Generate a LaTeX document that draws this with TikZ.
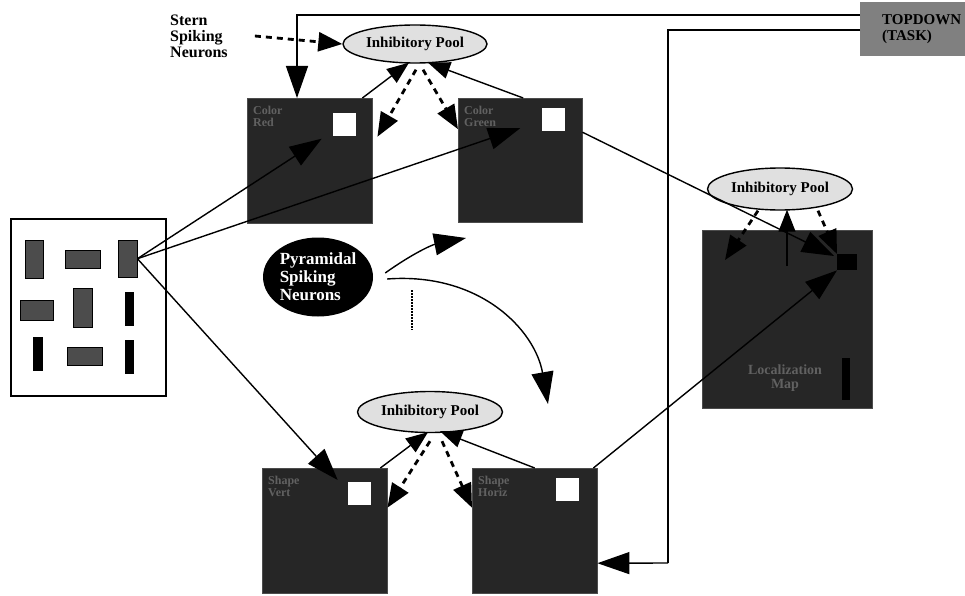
\documentclass[tikz,border=0pt]{standalone}
\usepackage{fontspec}
\setmainfont{Liberation Serif}
\usetikzlibrary{arrows.meta,shapes.geometric,positioning}

\tikzset{
    map/.style={rectangle, fill=black!85, draw=black!70, inner sep=0pt,
        anchor=north west},
    hole/.style={rectangle, fill=white, inner sep=0pt, anchor=north west},
    maplabel/.style={anchor=north west, align=left, text=black!62,
        font=\bfseries\fontsize{12}{12}\selectfont, inner sep=0pt},
    pool/.style={ellipse, draw, line width=1.4pt, fill=black!12,
        font=\bfseries\fontsize{15}{15}\selectfont, inner sep=0pt},
    bar/.style={rectangle, draw=black, inner sep=0pt, anchor=north west},
    bigarrow/.style={-{Triangle[length=32pt,width=22pt]}, line width=1.4pt},
    smallarrow/.style={-{Triangle[length=22pt,width=17pt]}, line width=1.4pt},
    inhib/.style={-{Triangle[length=24pt,width=19pt]}, line width=2.8pt,
        dash pattern=on 6pt off 5pt},
}

\newcommand{\mapwithhole}[6]{%
    % name, x, y, size, hole x offset, hole y offset
    \node[map, minimum width=#4pt, minimum height=#4pt] (#1) at (#2,#3) {};
    \node[hole, minimum size=23pt] (#1-w)
        at ([xshift=#5pt, yshift=-#6pt]#1.north west) {};}

\begin{document}
\begin{tikzpicture}[x=1pt, y=-1pt]
    \useasboundingbox (0,0) rectangle (965,596);

    % top-down input
    \node[rectangle, fill=black!50, anchor=north west, minimum height=54pt,
        text width=95pt, inner xsep=22pt, align=left,
        font=\bfseries\fontsize{15}{16}\selectfont] (topdown) at (860,2)
        {TOPDOWN\\(TASK)};

    % the image
    \node[rectangle, draw, line width=1.6pt, anchor=north west,
        minimum width=155pt, minimum height=177pt] (input) at (10,218) {};
    \foreach \n/\x/\y/\w/\h/\c in
        {1/25/240/18/38/black!70, 2/65/250/35/18/black!70,
         3/118/240/19/37/black!70, 4/20/300/33/20/black!70,
         5/73/288/19/39/black!70, 6/125/292/8/33/black,
         7/33/337/9/33/black, 8/67/347/35/18/black!70,
         9/125/340/8/33/black}{
        \node[bar, fill=\c, minimum width=\w pt, minimum height=\h pt]
            (bar\n) at (\x,\y) {};
    }

    % feature maps
    \mapwithhole{colred}{247}{98}{125}{86}{15}
    \mapwithhole{colgreen}{458}{98}{124}{84}{10}
    \mapwithhole{shvert}{262}{468}{125}{86}{14}
    \mapwithhole{shhoriz}{472}{468}{125}{84}{10}
    \node[maplabel] at ([xshift=6pt, yshift=-8pt]colred.north west)
        {Color\\Red};
    \node[maplabel] at ([xshift=6pt, yshift=-8pt]colgreen.north west)
        {Color\\Green};
    \node[maplabel] at ([xshift=6pt, yshift=-8pt]shvert.north west)
        {Shape\\Vert};
    \node[maplabel] at ([xshift=6pt, yshift=-8pt]shhoriz.north west)
        {Shape\\Horiz};

    % localization map
    \node[map, minimum width=170pt, minimum height=178pt] (locmap)
        at (702,230) {};
    \node[rectangle, fill=black, inner sep=0pt, anchor=north west,
        minimum width=20pt, minimum height=16pt] (locb) at (837,254) {};
    \node[rectangle, fill=black, inner sep=0pt, anchor=north west,
        minimum width=8pt, minimum height=42pt] (locbar) at (842,358) {};
    \node[maplabel, align=center, anchor=center,
        font=\bfseries\fontsize{14}{14}\selectfont] at (785,378)
        {Localization\\Map};

    % inhibitory pools
    \node[pool, minimum width=144pt, minimum height=38pt] (pool1)
        at (415,44) {Inhibitory Pool};
    \node[pool, minimum width=145pt, minimum height=41pt] (pool2)
        at (430,412) {Inhibitory Pool};
    \node[pool, minimum width=145pt, minimum height=42pt] (pool3)
        at (780,189) {Inhibitory Pool};

    % spiking neurons
    \node[anchor=west, align=left, inner sep=0pt,
        font=\bfseries\fontsize{16}{16}\selectfont] (stern) at (170,36)
        {Stern\\Spiking\\Neurons};
    \node[ellipse, fill=black, text=white, align=left, inner sep=0pt,
        minimum width=110pt, minimum height=79pt,
        font=\bfseries\fontsize{17}{18}\selectfont] (pyr) at (318,277)
        {Pyramidal\\Spiking\\Neurons};
    \coordinate (pyr-up) at (466,238);
    \coordinate (pyr-down) at (548,404);

    % top-down connections
    \draw[bigarrow] ([yshift=14pt]topdown.west)
        -| ([xshift=50pt]colred.north west);
    \draw[line width=1.4pt] ([yshift=-1pt]topdown.west) -| (668,563);
    \draw[bigarrow] (668,563) -- ([yshift=-32.5pt]shhoriz.east);

    % image to feature maps
    \draw[bigarrow] (bar3.east) -- ([xshift=12pt, yshift=22pt]colred.center);
    \draw[bigarrow] (bar3.east) -- ([yshift=32pt]colgreen.center);
    \draw[bigarrow] (bar3.east) -- ([xshift=13pt, yshift=-12pt]shvert.north);

    % upper pool
    \draw[inhib] ([xshift=27pt]stern.east) -- (pool1.west);
    \draw[smallarrow] ([xshift=-10pt]colred.north east)
        -- ([xshift=-6pt, yshift=1pt]pool1.south);
    \draw[smallarrow] ([xshift=3pt]colgreen.north)
        -- ([xshift=13pt, yshift=1pt]pool1.south);
    \draw[inhib] ([xshift=1pt, yshift=-6pt]pool1.south)
        -- ([xshift=5pt, yshift=24pt]colred.east);
    \draw[inhib] ([xshift=8pt, yshift=-6pt]pool1.south)
        -- ([yshift=31pt]colgreen.west);

    % lower pool
    \draw[smallarrow] ([xshift=-7pt]shvert.north east)
        -- ([xshift=-2pt, yshift=1pt]pool2.south);
    \draw[smallarrow] (shhoriz.north)
        -- ([xshift=10pt, yshift=2pt]pool2.south);
    \draw[inhib] ([yshift=-8pt]pool2.south) -- ([yshift=23pt]shvert.east);
    \draw[inhib] ([xshift=12pt, yshift=-8pt]pool2.south)
        -- ([yshift=23pt]shhoriz.west);

    % localization pool
    \draw[inhib] ([xshift=-22pt]pool3.south)
        -- ([xshift=23pt, yshift=-30pt]locmap.north west);
    \draw[smallarrow] ([xshift=85pt, yshift=-36pt]locmap.north west)
        -- ([xshift=7pt, yshift=1pt]pool3.south);
    \draw[inhib] ([xshift=38pt]pool3.south) -- (locb.north west);
    \draw[bigarrow] ([yshift=28pt]colgreen.east)
        -- ([xshift=-3pt, yshift=-2pt]locb.north west);
    \draw[bigarrow] ([xshift=-4pt]shhoriz.north east) -- (locb.south west);

    % pyramidal outputs
    \draw[bigarrow] ([xshift=12pt, yshift=4pt]pyr.east)
        to[bend left=12] (pyr-up);
    \draw[bigarrow] ([xshift=14pt, yshift=-2pt]pyr.east)
        .. controls (480,272) and (535,330) .. (pyr-down);
    \draw[line width=2pt, dash pattern=on 1.5pt off 1.5pt]
        ([xshift=94pt, yshift=-13pt]pyr.center)
        -- ([xshift=94pt, yshift=-53pt]pyr.center);
\end{tikzpicture}
\end{document}
